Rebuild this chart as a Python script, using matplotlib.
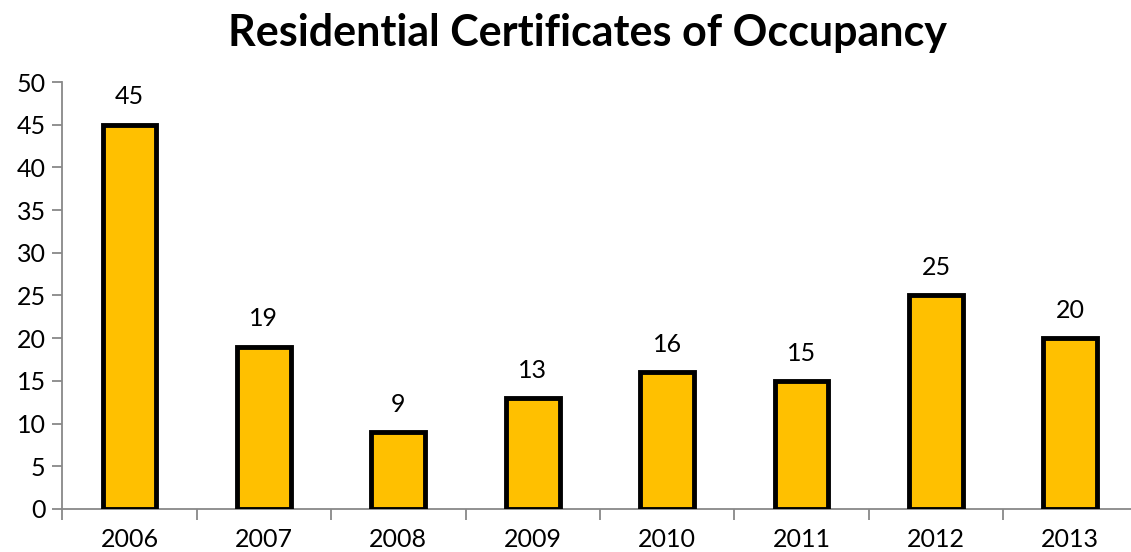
import matplotlib
matplotlib.use('Agg')
from matplotlib import pyplot as plt
import numpy as np

plt.rcParams['font.family'] = ['Lato', 'DejaVu Sans']

years = ['2006', '2007', '2008', '2009', '2010', '2011', '2012', '2013']
certs = [45, 19, 9, 13, 16, 15, 25, 20]

fig = plt.figure(figsize=(11.31, 5.52), dpi=100)
ax = fig.add_axes([0.0551, 0.078, 0.9507, 0.7734])
ax.set_clip_on(False)

x = np.arange(len(years))
bars = ax.bar(x, certs, width=0.40, color='#FFC000', edgecolor='black', linewidth=3.5, zorder=3)
for xi, v in zip(x, certs):
    ax.text(xi, v + 1.9, str(v), ha='center', va='bottom', fontsize=18, color='black')

ax.set_xlim(-0.5, len(years) - 0.5)
ax.set_ylim(0, 50)
ax.set_yticks(range(0, 51, 5))
ax.set_xticks(x)
ax.set_xticklabels(years)
ax.set_xticks(np.arange(-0.5, len(years)), minor=True)
ax.tick_params(axis='x', which='major', length=0, pad=14, labelsize=18)
ax.tick_params(axis='x', which='minor', length=8, color='#888888', width=1.3)
ax.tick_params(axis='y', length=7, color='#888888', width=1.3, labelsize=18, pad=5)

for s in ['top', 'right']:
    ax.spines[s].set_visible(False)
for s in ['left', 'bottom']:
    ax.spines[s].set_color('#888888')
    ax.spines[s].set_linewidth(1.3)

fig.text(0.519, 0.94, 'Residential Certificates of Occupancy', ha='center', va='center',
         fontsize=31, fontweight='bold', color='black')

fig.savefig('out.png', dpi=100)
